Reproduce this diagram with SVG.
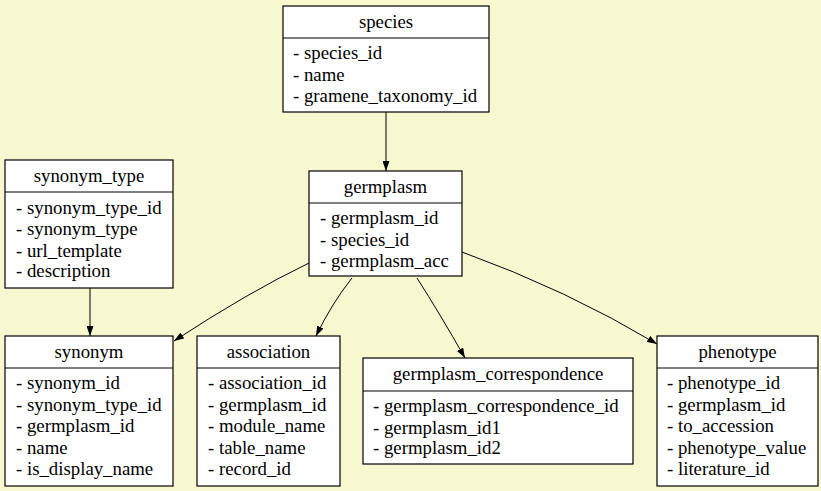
<svg xmlns="http://www.w3.org/2000/svg" width="821" height="491" viewBox="0 0 821 491">
<defs>
<style>
.box{fill:#ffffff;stroke:#000000;stroke-width:1.2}
.div{stroke:#000000;stroke-width:1.2}
.t{text-anchor:middle}
.e{fill:none;stroke:#000000;stroke-width:1}
</style>
<marker id="arr" viewBox="0 0 10 7" refX="10" refY="3.5" markerWidth="10" markerHeight="7" markerUnits="userSpaceOnUse" orient="auto">
<path d="M0,0 L10,3.5 L0,7 Z" fill="#000000"/>
</marker>
</defs>
<rect width="821" height="491" fill="#f8f8d0"/>
<g id="connectors">
<path class="e" d="M386,112 L386,171" marker-end="url(#arr)"/>
<path class="e" d="M90,288 L90,336" marker-end="url(#arr)"/>
<path class="e" d="M309,263 Q247,293 174,341" marker-end="url(#arr)"/>
<path class="e" d="M352,278 Q332,303 316,336" marker-end="url(#arr)"/>
<path class="e" d="M417,278 Q440,314 465,358" marker-end="url(#arr)"/>
<path class="e" d="M462,252 Q567,290 657,344" marker-end="url(#arr)"/>
</g>
<g font-family="Liberation Serif, Times New Roman, serif" font-size="18.8" fill="#000000">
<g id="species">
<rect class="box" x="283" y="6" width="206" height="106"/>
<line class="div" x1="283" y1="38" x2="489" y2="38"/>
<text class="t" x="386" y="28">species</text>
<text x="293" y="59">- species_id</text>
<text x="293" y="80.5">- name</text>
<text x="293" y="102">- gramene_taxonomy_id</text>
</g>
<g id="germplasm">
<rect class="box" x="309" y="171" width="153" height="105"/>
<line class="div" x1="309" y1="203" x2="462" y2="203"/>
<text class="t" x="385.5" y="193">germplasm</text>
<text x="320" y="224">- germplasm_id</text>
<text x="320" y="245.5">- species_id</text>
<text x="320" y="267">- germplasm_acc</text>
</g>
<g id="synonym_type">
<rect class="box" x="5" y="160" width="168" height="128"/>
<line class="div" x1="5" y1="192" x2="173" y2="192"/>
<text class="t" x="89" y="182">synonym_type</text>
<text x="16" y="213.5">- synonym_type_id</text>
<text x="16" y="235">- synonym_type</text>
<text x="16" y="256.5">- url_template</text>
<text x="16" y="277">- description</text>
</g>
<g id="synonym">
<rect class="box" x="5" y="336" width="168" height="150"/>
<line class="div" x1="5" y1="368" x2="173" y2="368"/>
<text class="t" x="89" y="358">synonym</text>
<text x="16" y="389">- synonym_id</text>
<text x="16" y="410.5">- synonym_type_id</text>
<text x="16" y="432">- germplasm_id</text>
<text x="16" y="453.5">- name</text>
<text x="16" y="475">- is_display_name</text>
</g>
<g id="association">
<rect class="box" x="197" y="336" width="143" height="150"/>
<line class="div" x1="197" y1="368" x2="340" y2="368"/>
<text class="t" x="268.5" y="358">association</text>
<text x="208" y="389">- association_id</text>
<text x="208" y="410.5">- germplasm_id</text>
<text x="208" y="432">- module_name</text>
<text x="208" y="453.5">- table_name</text>
<text x="208" y="475">- record_id</text>
</g>
<g id="germplasm_correspondence">
<rect class="box" x="363" y="358" width="270" height="106"/>
<line class="div" x1="363" y1="391" x2="633" y2="391"/>
<text class="t" x="498" y="380">germplasm_correspondence</text>
<text x="373" y="412">- germplasm_correspondence_id</text>
<text x="373" y="433.5">- germplasm_id1</text>
<text x="373" y="454">- germplasm_id2</text>
</g>
<g id="phenotype">
<rect class="box" x="657" y="336" width="161" height="150"/>
<line class="div" x1="657" y1="368" x2="818" y2="368"/>
<text class="t" x="737.5" y="358">phenotype</text>
<text x="667" y="389">- phenotype_id</text>
<text x="667" y="410.5">- germplasm_id</text>
<text x="667" y="432">- to_accession</text>
<text x="667" y="453.5">- phenotype_value</text>
<text x="667" y="475">- literature_id</text>
</g>
</g>
</svg>
